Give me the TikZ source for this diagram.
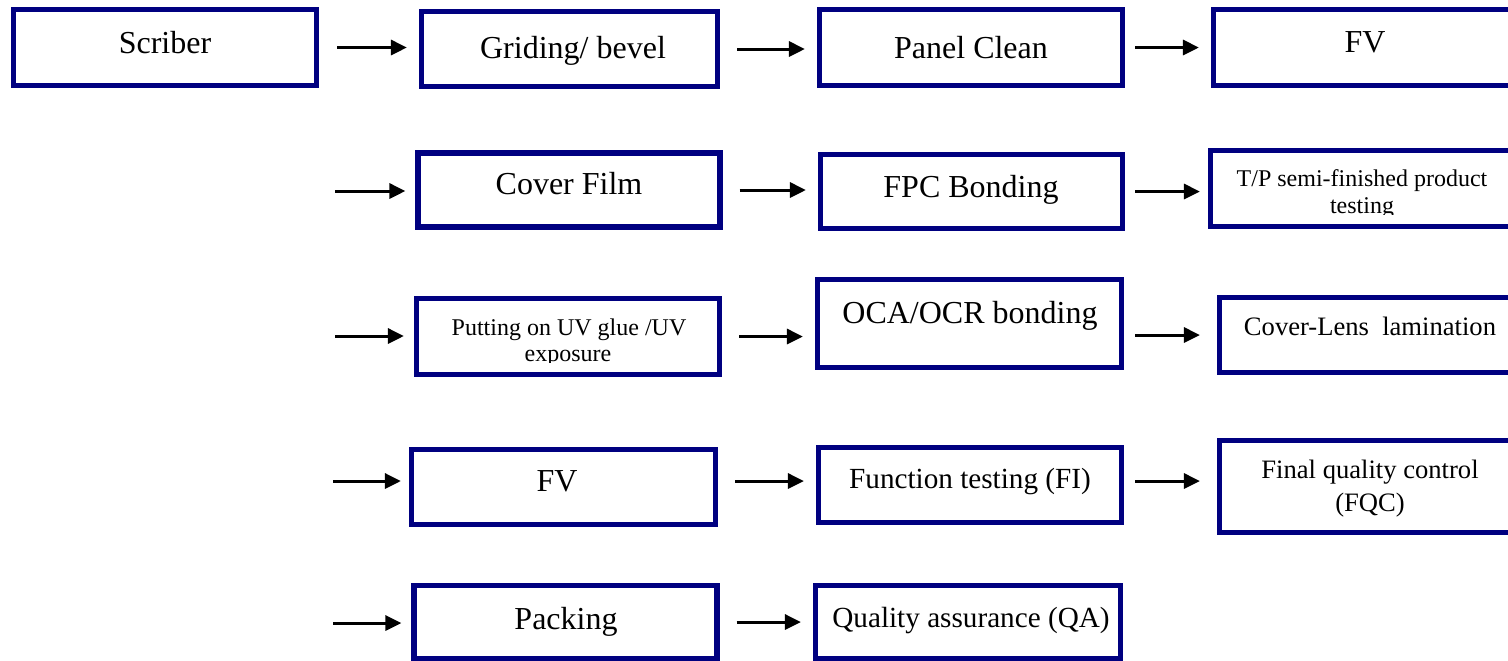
\documentclass[tikz,border=0pt]{standalone}
\usepackage{fontspec}
\setmainfont{Liberation Serif}
\usetikzlibrary{arrows.meta}

\definecolor{boxblue}{RGB}{0,0,128}

\tikzset{
  stepbox/.style={draw=boxblue, line width=2.6pt, inner sep=0pt,
    minimum width=151.5pt, minimum height=38pt},
  flow/.style={line width=1.5pt, -{Triangle[length=8pt,width=7.5pt]},
    shorten <=8.5pt, shorten >=6pt},
  bigtext/.style={font=\fontsize{16}{19}\selectfont, anchor=base, inner sep=0pt},
  midtext/.style={font=\fontsize{14.6}{17}\selectfont, anchor=base, inner sep=0pt},
  smalltext/.style={font=\fontsize{13.3}{16}\selectfont, anchor=base, inner sep=0pt},
  tinytext/.style={font=\fontsize{12}{14}\selectfont, anchor=base, inner sep=0pt},
}

\begin{document}
\begin{tikzpicture}[x=0.5pt, y=-0.5pt]

% Size of the page
\useasboundingbox (0, 0) rectangle (1508, 660);

% Texts first, so that the box lines cut them off
\node[bigtext] (scriber-t) at (165, 53) {Scriber};
\node[bigtext] (griding-t) at (573, 58) {Griding/ bevel};
\node[bigtext] (panel-t) at (971, 58) {Panel Clean};
\node[bigtext] (fv1-t) at (1365, 52) {FV};

\node[bigtext] (cover-t) at (569, 194) {Cover Film};
\node[bigtext] (fpc-t) at (971, 197) {FPC Bonding};
\node[tinytext] (tp-t1) at (1362, 186) {T/P semi-finished product};
% second line is cut off at the bottom
\begin{scope}
  \clip (1220, 150) rectangle (1508, 214);
  \node[tinytext] (tp-t2) at (1362, 213) {testing};
\end{scope}

\node[tinytext] (put-t1) at (569, 335) {Putting on UV glue /UV};
\begin{scope}
  \clip (420, 300) rectangle (716, 362);
  \node[tinytext] (put-t2) at (568, 361) {exposure};
\end{scope}
\node[bigtext] (oca-t) at (970, 323) {OCA/OCR bonding};
\node[smalltext] (lens-t) at (1370, 335) {Cover-Lens\ \ lamination};

\node[bigtext] (fv2-t) at (557, 491) {FV};
\node[midtext] (fi-t) at (970, 488) {Function testing (FI)};
\node[smalltext] (fqc-t1) at (1370, 478) {Final quality control};
\node[smalltext] (fqc-t2) at (1370, 511) {(FQC)};

\node[bigtext] (pack-t) at (566, 629) {Packing};
\node[midtext] (qa-t) at (971, 627) {Quality assurance (QA)};

% Row 1
\node[stepbox] (scriber) at (165, 47.5) {};
\node[stepbox, minimum width=148pt, minimum height=37.5pt] (griding) at (569.5, 49) {};
\node[stepbox] (panel) at (971, 47.5) {};
\node[stepbox] (fv1) at (1365, 47.5) {};

% Row 2
\node[stepbox, minimum width=151pt, minimum height=37pt] (cover) at (569, 190) {};
\node[stepbox, minimum width=151pt, minimum height=37pt] (fpc) at (971.5, 191.5) {};
\node[stepbox] (tp) at (1362, 188.5) {};

% Row 3
\node[stepbox] (put) at (568, 336.5) {};
\node[stepbox, minimum width=152pt, minimum height=44pt] (oca) at (969.5, 323.5) {};
\node[stepbox, minimum height=37.5pt] (lens) at (1371, 335) {};

% Row 4
\node[stepbox, minimum width=152pt, minimum height=37.5pt] (fv2) at (563.5, 487) {};
\node[stepbox, minimum height=37.5pt] (fi) at (970, 485) {};
\node[stepbox, minimum height=46pt] (fqc) at (1371, 486.5) {};

% Row 5
\node[stepbox, minimum width=151.5pt, minimum height=36.5pt] (pack) at (565.5, 622) {};
\node[stepbox, minimum width=152.5pt, minimum height=36.5pt] (qa) at (968, 622) {};

% Free ends of the incoming arrows
\coordinate (in2) at (335, 191);
\coordinate (in3) at (335, 336);
\coordinate (in4) at (333, 481);
\coordinate (in5) at (333, 623);

% Arrows, row 1
\draw[flow, shorten <=9pt] (scriber.east) -- (scriber.east -| griding.west);
\draw[flow] (griding.east) -- (griding.east -| panel.west);
\draw[flow, shorten <=5pt] (panel.east) -- (panel.east -| fv1.west);

% Arrows, row 2
\draw[flow, shorten <=0pt, shorten >=5pt] (in2) -- (in2 -| cover.west);
\draw[flow] (cover.east) -- (cover.east -| fpc.west);
\draw[flow, shorten <=5pt, shorten >=4pt] (fpc.east) -- (fpc.east -| tp.west);

% Arrows, row 3
\draw[flow, shorten <=0pt, shorten >=5pt] (in3) -- (in3 -| put.west);
\draw[flow] (put.east) -- (put.east -| oca.west);
\draw[flow, shorten <=5.5pt, shorten >=8.5pt] (lens.west -| oca.east) -- (lens.west);

% Arrows, row 4
\draw[flow, shorten <=0pt, shorten >=4pt] (in4) -- (in4 -| fv2.west);
\draw[flow] (fv2.east |- in4) -- (fi.west |- in4);
\draw[flow, shorten <=5.5pt, shorten >=8.5pt] (fi.east |- in4) -- (fqc.west |- in4);

% Arrows, row 5
\draw[flow, shorten <=0pt, shorten >=5pt] (in5) -- (in5 -| pack.west);
\draw[flow] (pack.east) -- (pack.east -| qa.west);

\end{tikzpicture}
\end{document}
